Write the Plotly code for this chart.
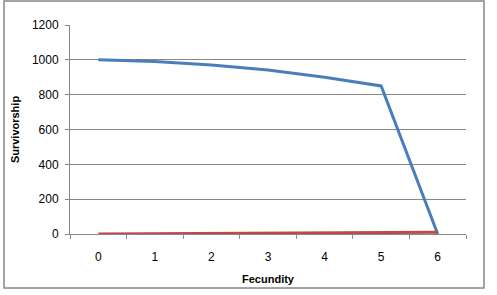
import plotly.graph_objects as go

categories = ["0", "1", "2", "3", "4", "5", "6"]
survivorship = [1000, 990, 970, 942, 900, 850, 0]
fecundity = [0, 2, 4, 5, 6, 9, 10]
y_ticks = [0, 200, 400, 600, 800, 1000, 1200]

W, H = 497, 295
L, R, T, B = 70, 466, 25, 234
pw, ph = R - L, B - T

fig = go.Figure()
fig.add_trace(go.Scatter(x=categories, y=survivorship, mode="lines",
                         line=dict(color="#4A7EBB", width=3), showlegend=False))
fig.add_trace(go.Scatter(x=categories, y=fecundity, mode="lines",
                         line=dict(color="#BE4B48", width=3), showlegend=False))

font = dict(family="Liberation Sans, Arial, sans-serif", size=12, color="#000000")

fig.update_layout(
    width=W, height=H,
    margin=dict(l=L, r=W - R, t=T, b=H - B, autoexpand=False),
    paper_bgcolor="white", plot_bgcolor="white",
    font=font,
    xaxis=dict(
        type="category", range=[-0.5, 6.5], automargin=False,
        showgrid=False, showline=True, linecolor="#878787", linewidth=1,
        ticks="outside", ticklen=4, tickcolor="#878787",
        tickson="boundaries", ticklabelstandoff=12,
        title=dict(text="<b>Fecundity</b>", font=dict(size=11), standoff=11),
        zeroline=False,
    ),
    yaxis=dict(
        range=[0, 1200], tickvals=y_ticks, automargin=False,
        showgrid=True, gridcolor="#878787", gridwidth=1,
        showline=True, linecolor="#878787", linewidth=1,
        ticks="outside", ticklen=4, tickcolor="#878787",
        ticklabelstandoff=4,
        title=dict(text="<b>Survivorship</b>", font=dict(size=11), standoff=10),
        zeroline=False,
    ),
    shapes=[dict(type="rect", xref="paper", yref="paper",
                 x0=(4 - L) / pw, x1=(484 - L) / pw,
                 y0=(B - 288) / ph, y1=(B - 1) / ph,
                 line=dict(color="#878787", width=1.5), layer="below")],
)

fig.write_html("out.html")
